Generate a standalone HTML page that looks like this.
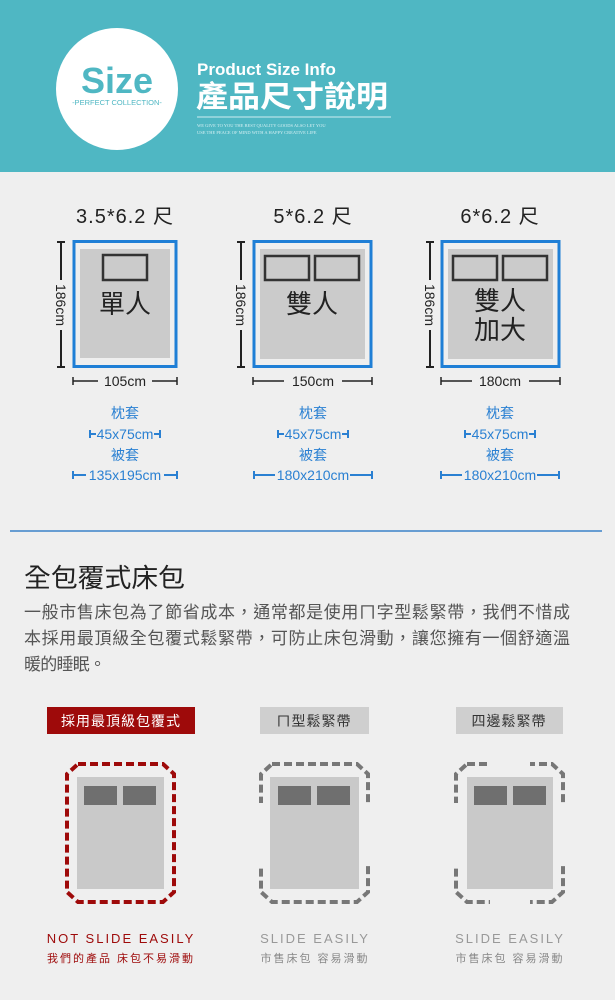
<!DOCTYPE html>
<html><head><meta charset="utf-8"><style>
html,body{margin:0;padding:0;background:#efefef;}
svg{display:block;font-family:"Liberation Sans","Noto Sans CJK TC",sans-serif;}
</style></head><body>
<svg width="615" height="1000" viewBox="0 0 615 1000" xmlns="http://www.w3.org/2000/svg">
<rect x="0" y="0" width="615" height="1000" fill="#efefef"/>
<!-- header -->
<rect x="0" y="0" width="615" height="172" fill="#4fb7c3"/>
<circle cx="117" cy="89" r="61" fill="#fff"/>
<text x="117" y="93" text-anchor="middle" font-size="36" font-weight="bold" fill="#4fb7c3">Size</text>
<text x="117" y="105" text-anchor="middle" font-size="7.5" fill="#4fb7c3">-PERFECT COLLECTION-</text>
<text x="197" y="75" font-size="17" font-weight="bold" fill="#fff">Product Size Info</text>
<text x="196" y="107" font-size="30" font-weight="bold" fill="#fff" textLength="192" lengthAdjust="spacingAndGlyphs">產品尺寸說明</text>
<line x1="197" y1="117" x2="391" y2="117" stroke="#cfeef2" stroke-width="1"/>
<text x="197" y="127" font-size="4.5" fill="#d6f0f3" font-family="Liberation Serif,serif">WE GIVE TO YOU THE BEST QUALITY GOODS ALSO LET YOU</text>
<text x="197" y="134" font-size="4.5" fill="#d6f0f3" font-family="Liberation Serif,serif">USE THE PEACE OF MIND WITH A HAPPY CREATIVE LIFE</text>

<!-- size diagrams -->
<g font-size="20" fill="#222" text-anchor="middle">
<text x="125" y="223" letter-spacing="1">3.5*6.2 尺</text>
<text x="313" y="223" letter-spacing="1">5*6.2 尺</text>
<text x="500" y="223" letter-spacing="1">6*6.2 尺</text>
</g>
<!-- bed1 -->
<rect x="74" y="241.5" width="102" height="125" fill="none" stroke="#1f7fd6" stroke-width="3"/>
<rect x="80" y="249" width="90" height="109" fill="#cbcbcb"/>
<rect x="103" y="255" width="44" height="25" fill="none" stroke="#333" stroke-width="2.5"/>
<text x="125" y="313" text-anchor="middle" font-size="26" fill="#222">單人</text>
<!-- bed2 -->
<rect x="254" y="241.5" width="117" height="125" fill="none" stroke="#1f7fd6" stroke-width="3"/>
<rect x="260" y="249" width="105" height="110" fill="#cbcbcb"/>
<rect x="265" y="256" width="44" height="24" fill="none" stroke="#333" stroke-width="2.5"/>
<rect x="315" y="256" width="44" height="24" fill="none" stroke="#333" stroke-width="2.5"/>
<text x="312" y="313" text-anchor="middle" font-size="26" fill="#222">雙人</text>
<!-- bed3 -->
<rect x="442" y="241.5" width="117" height="125" fill="none" stroke="#1f7fd6" stroke-width="3"/>
<rect x="448" y="249" width="105" height="110" fill="#cbcbcb"/>
<rect x="453" y="256" width="44" height="24" fill="none" stroke="#333" stroke-width="2.5"/>
<rect x="503" y="256" width="44" height="24" fill="none" stroke="#333" stroke-width="2.5"/>
<text x="500" y="310" text-anchor="middle" font-size="26" fill="#222">雙人</text>
<text x="500" y="339" text-anchor="middle" font-size="26" fill="#222">加大</text>

<!-- vertical dims -->
<g stroke="#222" stroke-width="2">
<line x1="61" y1="242" x2="61" y2="280"/><line x1="61" y1="330" x2="61" y2="367"/>
<line x1="57" y1="242" x2="65" y2="242"/><line x1="57" y1="367" x2="65" y2="367"/>
<line x1="241" y1="242" x2="241" y2="280"/><line x1="241" y1="330" x2="241" y2="367"/>
<line x1="237" y1="242" x2="245" y2="242"/><line x1="237" y1="367" x2="245" y2="367"/>
<line x1="430" y1="242" x2="430" y2="280"/><line x1="430" y1="330" x2="430" y2="367"/>
<line x1="426" y1="242" x2="434" y2="242"/><line x1="426" y1="367" x2="434" y2="367"/>
</g>
<g font-size="14" fill="#222" text-anchor="middle">
<text transform="translate(56,305) rotate(90)">186cm</text>
<text transform="translate(236,305) rotate(90)">186cm</text>
<text transform="translate(425,305) rotate(90)">186cm</text>
</g>
<!-- horizontal dims -->
<g stroke="#222" stroke-width="1.5">
<line x1="73" y1="381" x2="98" y2="381"/><line x1="152" y1="381" x2="177" y2="381"/>
<line x1="73" y1="377" x2="73" y2="385"/><line x1="177" y1="377" x2="177" y2="385"/>
<line x1="253" y1="381" x2="284" y2="381"/><line x1="342" y1="381" x2="372" y2="381"/>
<line x1="253" y1="377" x2="253" y2="385"/><line x1="372" y1="377" x2="372" y2="385"/>
<line x1="441" y1="381" x2="472" y2="381"/><line x1="529" y1="381" x2="560" y2="381"/>
<line x1="441" y1="377" x2="441" y2="385"/><line x1="560" y1="377" x2="560" y2="385"/>
</g>
<g font-size="14" fill="#222" text-anchor="middle">
<text x="125" y="386">105cm</text><text x="313" y="386">150cm</text><text x="500" y="386">180cm</text>
</g>
<!-- blue specs -->
<g fill="#2a80d2" font-size="14" text-anchor="middle">
<text x="125" y="418">枕套</text><text x="125" y="439">45x75cm</text>
<text x="125" y="460">被套</text><text x="125" y="480">135x195cm</text>
<text x="313" y="418">枕套</text><text x="313" y="439">45x75cm</text>
<text x="313" y="460">被套</text><text x="313" y="480">180x210cm</text>
<text x="500" y="418">枕套</text><text x="500" y="439">45x75cm</text>
<text x="500" y="460">被套</text><text x="500" y="480">180x210cm</text>
</g>
<g stroke="#2a80d2" stroke-width="2">
<line x1="90" y1="434" x2="96" y2="434"/><line x1="90" y1="430" x2="90" y2="438"/>
<line x1="154" y1="434" x2="160" y2="434"/><line x1="160" y1="430" x2="160" y2="438"/>
<line x1="73" y1="475" x2="86" y2="475"/><line x1="73" y1="471" x2="73" y2="479"/>
<line x1="164" y1="475" x2="177" y2="475"/><line x1="177" y1="471" x2="177" y2="479"/>
<line x1="278" y1="434" x2="284" y2="434"/><line x1="278" y1="430" x2="278" y2="438"/>
<line x1="342" y1="434" x2="348" y2="434"/><line x1="348" y1="430" x2="348" y2="438"/>
<line x1="254" y1="475" x2="275" y2="475"/><line x1="254" y1="471" x2="254" y2="479"/>
<line x1="350" y1="475" x2="372" y2="475"/><line x1="372" y1="471" x2="372" y2="479"/>
<line x1="465" y1="434" x2="471" y2="434"/><line x1="465" y1="430" x2="465" y2="438"/>
<line x1="529" y1="434" x2="535" y2="434"/><line x1="535" y1="430" x2="535" y2="438"/>
<line x1="441" y1="475" x2="462" y2="475"/><line x1="441" y1="471" x2="441" y2="479"/>
<line x1="537" y1="475" x2="559" y2="475"/><line x1="559" y1="471" x2="559" y2="479"/>
</g>

<line x1="10" y1="531" x2="602" y2="531" stroke="#3a82c8" stroke-width="1.5"/>

<text x="24" y="587" font-size="26" fill="#222" textLength="161" lengthAdjust="spacingAndGlyphs">全包覆式床包</text>
<g font-size="17" fill="#555">
<text x="24" y="618" textLength="546" lengthAdjust="spacing">一般市售床包為了節省成本，通常都是使用ㄇ字型鬆緊帶，我們不惜成</text>
<text x="24" y="644" textLength="546" lengthAdjust="spacing">本採用最頂級全包覆式鬆緊帶，可防止床包滑動，讓您擁有一個舒適溫</text>
<text x="24" y="670" textLength="82" lengthAdjust="spacing">暖的睡眠。</text>
</g>

<!-- tags -->
<rect x="47" y="707" width="148" height="27" fill="#9e0a0a"/>
<text x="121" y="726" text-anchor="middle" font-size="14" fill="#fff" letter-spacing="1">採用最頂級包覆式</text>
<rect x="260" y="707" width="109" height="27" fill="#cfcfcf"/>
<text x="314" y="726" text-anchor="middle" font-size="14" fill="#333" letter-spacing="1">ㄇ型鬆緊帶</text>
<rect x="456" y="707" width="107" height="27" fill="#cfcfcf"/>
<text x="509" y="726" text-anchor="middle" font-size="14" fill="#333" letter-spacing="1">四邊鬆緊帶</text>

<!-- beds section 2 -->
<rect x="77" y="777" width="87" height="112" fill="#c9c9c9"/>
<rect x="84" y="786" width="33" height="19" fill="#6f6f6f"/><rect x="123" y="786" width="33" height="19" fill="#6f6f6f"/>
<path d="M78,764 L163,764 L174,774 L174,892 L163,902 L78,902 L67,892 L67,774 Z" fill="none" stroke="#9e0a0a" stroke-width="4" stroke-dasharray="8 4"/>

<path d="M272,764 L357,764 L368,774 L368,892 L357,902 L272,902 L261,892 L261,774 Z" fill="none" stroke="#777" stroke-width="4" stroke-dasharray="8 4"/>
<rect x="256" y="803" width="118" height="62" fill="#efefef"/>
<rect x="270" y="777" width="89" height="112" fill="#c9c9c9"/>
<rect x="278" y="786" width="33" height="19" fill="#6f6f6f"/><rect x="317" y="786" width="33" height="19" fill="#6f6f6f"/>

<path d="M467,764 L552,764 L563,774 L563,892 L552,902 L467,902 L456,892 L456,774 Z" fill="none" stroke="#777" stroke-width="4" stroke-dasharray="8 4"/>
<rect x="451" y="803" width="118" height="62" fill="#efefef"/>
<rect x="490" y="759" width="40" height="10" fill="#efefef"/>
<rect x="490" y="897" width="40" height="10" fill="#efefef"/>
<rect x="467" y="777" width="86" height="112" fill="#c9c9c9"/>
<rect x="474" y="786" width="33" height="19" fill="#6f6f6f"/><rect x="513" y="786" width="33" height="19" fill="#6f6f6f"/>

<g font-size="13" letter-spacing="2" text-anchor="middle">
<text x="121" y="943" fill="#9e0a0a">NOT SLIDE EASILY</text>
<text x="315" y="943" fill="#999">SLIDE EASILY</text>
<text x="510" y="943" fill="#999">SLIDE EASILY</text>
</g>
<g font-size="11" letter-spacing="2" text-anchor="middle">
<text x="121" y="962" fill="#9e0a0a">我們的產品 床包不易滑動</text>
<text x="315" y="962" fill="#888">市售床包 容易滑動</text>
<text x="510" y="962" fill="#888">市售床包 容易滑動</text>
</g>
</svg>
</body></html>
